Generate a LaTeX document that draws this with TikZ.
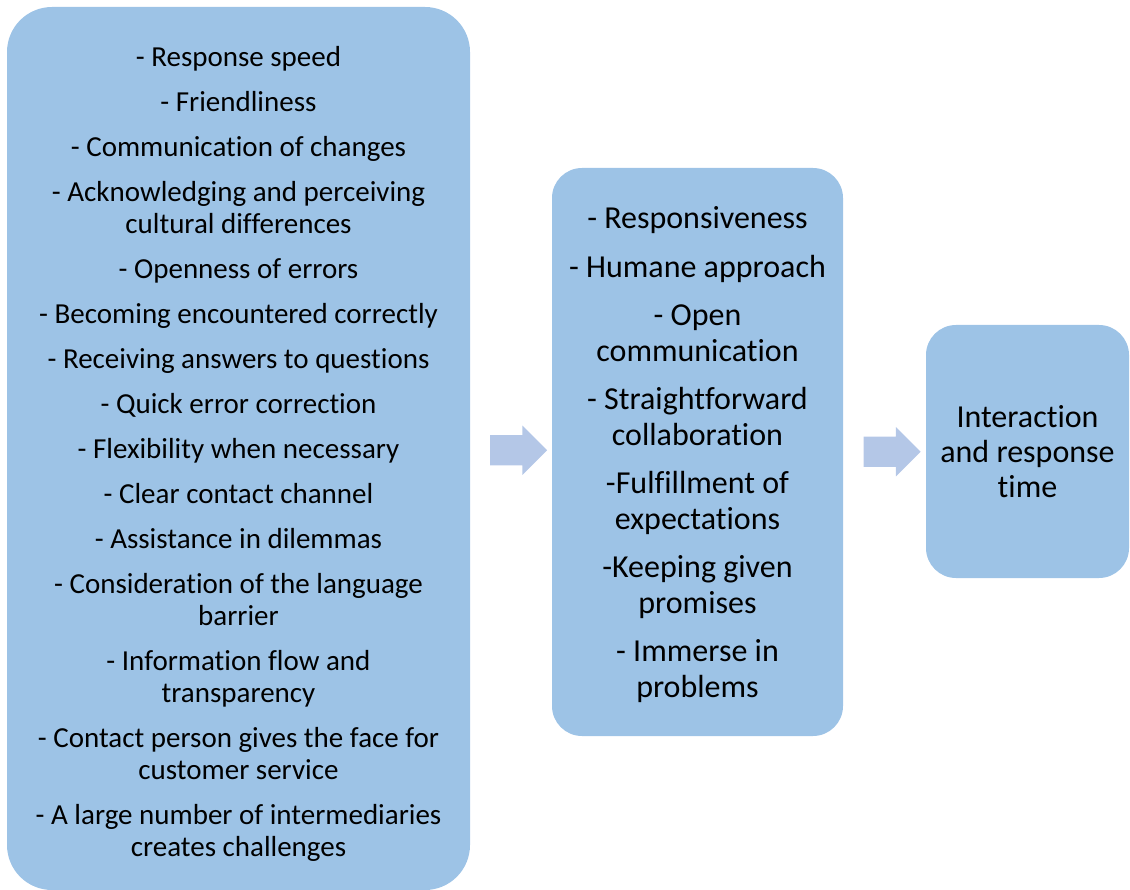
\documentclass[tikz,border=0pt]{standalone}
\usepackage{fontspec}
\setmainfont{Carlito}[Ligatures=NoCommon]
\usepackage{tikz}
\usetikzlibrary{shapes.arrows,calc}

\begin{document}
\begin{tikzpicture}[x=1pt,y=-1pt]
\tikzstyle{box}=[fill=boxblue,rounded corners=30pt,align=center,inner sep=0pt]
\tikzstyle{blockarrow}=[single arrow,fill=arrowblue,minimum height=57pt,inner xsep=0pt,inner ysep=15pt,single arrow head extend=9.5pt]
\definecolor{boxblue}{HTML}{9DC3E6}
\definecolor{arrowblue}{HTML}{B4C7E7}
\useasboundingbox (0,0) rectangle (1130,890);
\node [box,rounded corners=45pt,minimum width=463pt,minimum height=883pt,
       font=\fontsize{29}{32}\selectfont] (cues) at (238.5,448.5)
  {\rule{0pt}{31pt}- Response speed\\[13pt]
   - Friendliness\\[13pt]
   - Communication of changes\\[13pt]
   - Acknowledging and perceiving\\cultural differences\\[13pt]
   - Openness of errors\\[13pt]
   - Becoming encountered correctly\\[13pt]
   - Receiving answers to questions\\[13pt]
   - Quick error correction\\[13pt]
   - Flexibility when necessary\\[13pt]
   - Clear contact channel\\[13pt]
   - Assistance in dilemmas\\[13pt]
   - Consideration of the language\\barrier\\[13pt]
   - Information flow and\\transparency\\[13pt]
   - Contact person gives the face for\\customer service\\[13pt]
   - A large number of intermediaries\\creates challenges};
\node [box,minimum width=291pt,minimum height=568pt,
       font=\fontsize{32}{35.5}\selectfont] (qualities) at (697.5,452)
  {\rule{0pt}{27pt}- Responsiveness\\[13pt]
   - Humane approach\\[13pt]
   - Open\\communication\\[13pt]
   - Straightforward\\collaboration\\[13pt]
   -Fulfillment of\\expectations\\[13pt]
   -Keeping given\\promises\\[13pt]
   - Immerse in\\problems};
\node [box,minimum width=203pt,minimum height=253pt,
       font=\fontsize{32}{35}\selectfont] (outcome) at (1027.5,451.5)
  {Interaction\\and response\\time};
\node [blockarrow] (arrow1) at ($(cues.east)!0.5!(qualities.west)$) {};
\node [blockarrow] (arrow2) at ($(qualities.east)!0.5!(outcome.west)$) {};
\end{tikzpicture}
\end{document}
